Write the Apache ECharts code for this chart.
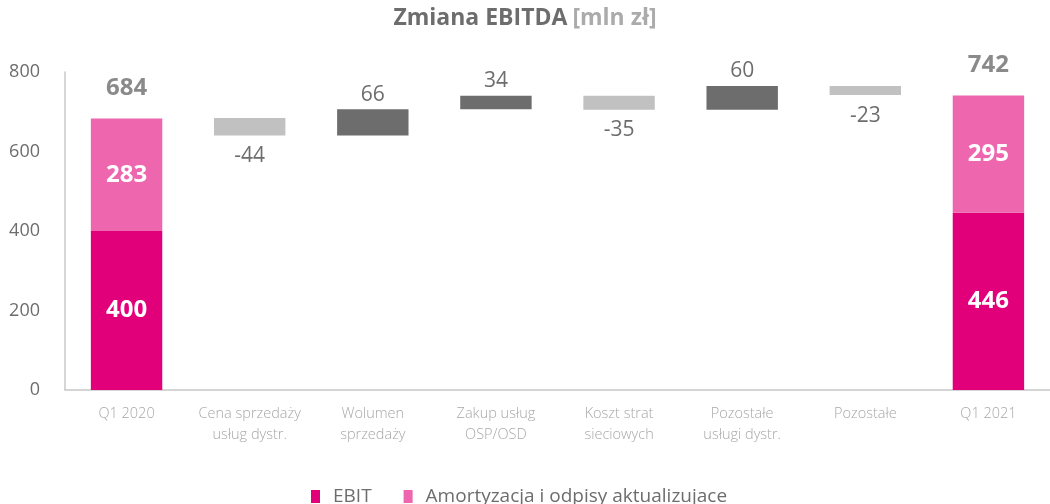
<!DOCTYPE html>
<html><head><meta charset="utf-8">
<script src="https://cdn.jsdelivr.net/npm/echarts@6/dist/echarts.min.js"></script>
<style>html,body{margin:0;padding:0;background:#fff}#c{width:1050px;height:504px}</style>
</head><body><div id="c"></div>
<script>
const categories = ['Q1 2020', 'Cena sprzedaży\nusług dystr.', 'Wolumen\nsprzedaży', 'Zakup usług\nOSP/OSD', 'Koszt strat\nsieciowych', 'Pozostałe\nusługi dystr.', 'Pozostałe', 'Q1 2021'];
const ebit = [400, null, null, null, null, null, null, 446];
const amort = [283, null, null, null, null, null, null, 295];
const totals = [684, null, null, null, null, null, null, 742];
const deltas = [null, -44, 66, 34, -35, 60, -23, null];

const FONT = '"Open Sans", "Noto Sans", sans-serif';
// derive waterfall base + magnitude from deltas
const base = [], mag = [];
let cum = totals[0];
for (let i = 0; i < categories.length; i++) {
  const d = deltas[i];
  if (d === null) { base.push(null); mag.push(null); continue; }
  const next = cum + d;
  base.push(Math.min(cum, next));
  mag.push({ value: Math.abs(d), delta: d,
    itemStyle: { color: d >= 0 ? '#6d6d6d' : '#c1c1c1' },
    label: { position: d >= 0 ? 'top' : 'bottom', distance: d >= 0 ? 4 : 10 } });
  cum = next;
}
const chart = echarts.init(document.getElementById('c'));
chart.setOption({
  animation: false,
  title: {
    text: '{a|Zmiana EBITDA} {b|[mln zł]}', left: 'center', top: 2,
    textStyle: { rich: {
      a: { fontFamily: FONT, fontSize: 23, fontWeight: 'bold', color: '#6d6d6d' },
      b: { fontFamily: FONT, fontSize: 23, fontWeight: 'bold', color: '#ababab' } } }
  },
  legend: {
    data: ['EBIT', 'Amortyzacja i odpisy aktualizujace'], left: 306, top: 482,
    itemWidth: 9, itemHeight: 13, itemGap: 32, icon: 'rect',
    textStyle: { fontFamily: FONT, fontSize: 19, color: '#6d6d6d', padding: [0, 0, 0, 8] }
  },
  grid: { left: 65, top: 72, width: 992, bottom: 114 },
  xAxis: {
    type: 'category', data: categories,
    axisLine: { lineStyle: { color: '#c8c8c8', width: 1.5 } }, axisTick: { show: false },
    axisLabel: { fontFamily: FONT, fontSize: 14.5, fontWeight: 300, color: '#a8a8a8', lineHeight: 21, margin: 13, interval: 0 }
  },
  yAxis: {
    type: 'value', min: 0, max: 800, interval: 200,
    axisLine: { show: true, lineStyle: { color: '#c8c8c8', width: 1.5 } }, axisTick: { show: false },
    splitLine: { show: false },
    axisLabel: { fontFamily: FONT, fontSize: 18, color: '#6d6d6d', margin: 25 }
  },
  series: [
    { name: 'base', type: 'bar', stack: 's', data: base, barWidth: '58%',
      itemStyle: { color: 'transparent' }, silent: true },
    { name: 'delta', type: 'bar', stack: 's', data: mag,
      label: { show: true, fontFamily: FONT, fontSize: 21, color: '#6d6d6d',
        formatter: p => p.data.delta } },
    { name: 'EBIT', type: 'bar', stack: 's', data: ebit, itemStyle: { color: '#e2007a' },
      label: { show: true, position: 'inside', fontFamily: FONT, fontSize: 24, fontWeight: 'bold', color: '#fff' } },
    { name: 'Amortyzacja i odpisy aktualizujace', type: 'bar', stack: 's', data: amort,
      itemStyle: { color: '#ee66ae' },
      label: { show: true, position: 'inside', fontFamily: FONT, fontSize: 24, fontWeight: 'bold', color: '#fff' } },
    { name: 'total', type: 'scatter', data: totals, symbolSize: 0,
      label: { show: true, position: 'top', distance: 18, fontFamily: FONT, fontSize: 24, fontWeight: 'bold', color: '#6d6d6d' } }
  ]
});
</script></body></html>
